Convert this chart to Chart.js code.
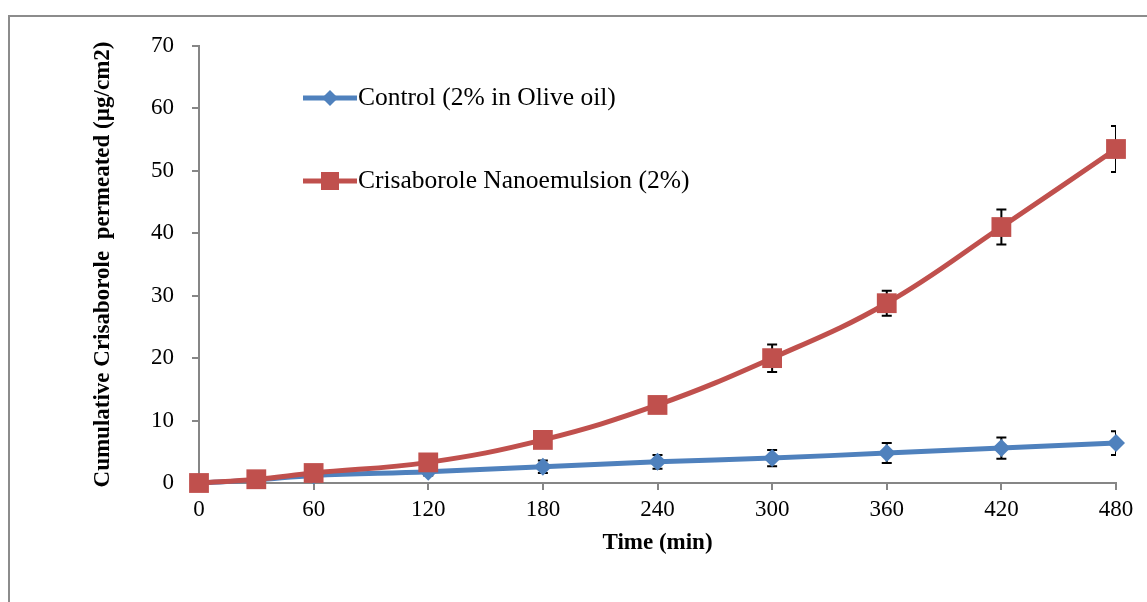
<!DOCTYPE html>
<html>
<head>
<meta charset="utf-8">
<script src="https://cdn.jsdelivr.net/npm/chart.js@4.4.1/dist/chart.umd.min.js"></script>
<style>
    html, body { margin: 0; padding: 0; background: #ffffff; }
    #wrap { position: relative; width: 1147px; height: 602px; }
    #frame {
        position: absolute; left: 8px; top: 15px; right: 0; bottom: 0;
        border-top: 2px solid #8c8c8c; border-left: 2px solid #8c8c8c;
    }
    #performanceChart { position: absolute; left: 0; top: 0; }
</style>
</head>
<body>
<div id="wrap">
    <div id="frame"></div>
    <canvas id="performanceChart" width="1147" height="602"></canvas>
</div>
<script>
const timePoints = [0, 30, 60, 120, 180, 240, 300, 360, 420, 480];
const controlValues = [0, 0.5, 1.2, 1.8, 2.6, 3.4, 4.0, 4.8, 5.6, 6.4];
const controlErrors = [0, 0.1, 0.3, 0.6, 1.0, 1.1, 1.3, 1.6, 1.7, 1.9];
const nanoValues = [0, 0.6, 1.6, 3.3, 6.9, 12.5, 20.0, 28.8, 41.0, 53.5];
const nanoErrors = [0, 0.2, 0.3, 0.5, 0.8, 1.0, 2.2, 2.0, 2.8, 3.7];
const xTicks = [0, 60, 120, 180, 240, 300, 360, 420, 480];
const yTicks = [0, 10, 20, 30, 40, 50, 60, 70];

const controlLabel = "Control (2% in Olive oil)";
const nanoLabel = "Crisaborole Nanoemulsion (2%)";

const blue = "#4f81bd";
const red = "#c0504d";
const axisGrey = "#868686";
const serif = "'Liberation Serif', 'Times New Roman', serif";

function toPoints(values) {
    return timePoints.map((t, i) => ({ x: t, y: values[i] }));
}

// vertical error bars, drawn under the markers and clipped to the plot area
const errorBars = {
    id: "errorBars",
    beforeDatasetsDraw(chart) {
        const ctx = chart.ctx;
        const area = chart.chartArea;
        const xs = chart.scales.x;
        const ys = chart.scales.y;
        ctx.save();
        ctx.beginPath();
        ctx.rect(area.left, area.top - 20, area.right - area.left, area.bottom - area.top + 40);
        ctx.clip();
        ctx.strokeStyle = "#000000";
        ctx.lineWidth = 2;
        chart.data.datasets.forEach(ds => {
            ds.data.forEach((p, i) => {
                const err = ds.errors[i];
                if (!err) return;
                const x = xs.getPixelForValue(p.x);
                const yTop = ys.getPixelForValue(p.y + err);
                const yBot = ys.getPixelForValue(p.y - err);
                ctx.beginPath();
                ctx.moveTo(x, yTop);
                ctx.lineTo(x, yBot);
                ctx.moveTo(x - 5, yTop);
                ctx.lineTo(x + 5, yTop);
                ctx.moveTo(x - 5, yBot);
                ctx.lineTo(x + 5, yBot);
                ctx.stroke();
            });
        });
        ctx.restore();
    }
};

// legend placed inside the plot, like the original
const insideLegend = {
    id: "insideLegend",
    afterDraw(chart) {
        const ctx = chart.ctx;
        const rows = [
            { ds: chart.data.datasets[0], y: 98 },
            { ds: chart.data.datasets[1], y: 181 }
        ];
        ctx.save();
        rows.forEach(row => {
            const ds = row.ds;
            ctx.strokeStyle = ds.borderColor;
            ctx.lineWidth = 5;
            ctx.beginPath();
            ctx.moveTo(303, row.y);
            ctx.lineTo(357, row.y);
            ctx.stroke();
            ctx.fillStyle = ds.pointBackgroundColor;
            ctx.beginPath();
            if (ds.pointStyle === "rect") {
                ctx.rect(330 - 9, row.y - 9, 18, 18);
            } else {
                ctx.moveTo(330 - 8, row.y);
                ctx.lineTo(330, row.y - 8);
                ctx.lineTo(330 + 8, row.y);
                ctx.lineTo(330, row.y + 8);
                ctx.closePath();
            }
            ctx.fill();
            ctx.fillStyle = "#000000";
            ctx.font = "25.5px " + serif;
            ctx.textBaseline = "middle";
            ctx.textAlign = "left";
            ctx.fillText(ds.label, 358, row.y);
        });
        ctx.restore();
    }
};

const ctx = document.getElementById("performanceChart");

new Chart(ctx, {
    type: "line",
    data: {
        datasets: [
            {
                label: controlLabel,
                data: toPoints(controlValues),
                errors: controlErrors,
                borderColor: blue,
                backgroundColor: blue,
                pointBackgroundColor: blue,
                pointBorderColor: blue,
                pointBorderWidth: 0,
                pointStyle: "rectRot",
                pointRadius: 9,
                borderWidth: 5,
                tension: 0.4,
                order: 1,
                clip: false
            },
            {
                label: nanoLabel,
                data: toPoints(nanoValues),
                errors: nanoErrors,
                borderColor: red,
                backgroundColor: red,
                pointBackgroundColor: red,
                pointBorderColor: red,
                pointBorderWidth: 0,
                pointStyle: "rect",
                pointRadius: 14,
                borderWidth: 5,
                tension: 0.4,
                order: 0,
                clip: false
            }
        ]
    },
    options: {
        responsive: false,
        animation: false,
        layout: {
            padding: { left: 85, top: 46, right: 31, bottom: 41 }
        },
        plugins: {
            legend: { display: false },
            tooltip: { enabled: false }
        },
        scales: {
            x: {
                type: "linear",
                min: 0,
                max: 480,
                afterFit: scale => { scale.height = 78; },
                afterBuildTicks: scale => { scale.ticks = xTicks.map(v => ({ value: v })); },
                ticks: {
                    color: "#000000",
                    padding: 6,
                    maxRotation: 0,
                    font: { family: serif, size: 23 }
                },
                grid: {
                    drawOnChartArea: false,
                    color: axisGrey,
                    lineWidth: 2,
                    tickLength: 7
                },
                border: { color: axisGrey, width: 2 },
                title: {
                    display: true,
                    text: "Time (min)",
                    color: "#000000",
                    font: { family: serif, size: 23, weight: "bold" }
                }
            },
            y: {
                min: 0,
                max: 70,
                afterFit: scale => { scale.width = 114; },
                afterBuildTicks: scale => { scale.ticks = yTicks.map(v => ({ value: v })); },
                ticks: {
                    color: "#000000",
                    padding: 18,
                    font: { family: serif, size: 23 }
                },
                grid: {
                    drawOnChartArea: false,
                    color: axisGrey,
                    lineWidth: 2,
                    tickLength: 7
                },
                border: { color: axisGrey, width: 2 },
                title: {
                    display: true,
                    text: "Cumulative Crisaborole  permeated (\u00b5g/cm2)",
                    color: "#000000",
                    font: { family: serif, size: 23, weight: "bold" }
                }
            }
        }
    },
    plugins: [errorBars, insideLegend]
});
</script>
</body>
</html>
